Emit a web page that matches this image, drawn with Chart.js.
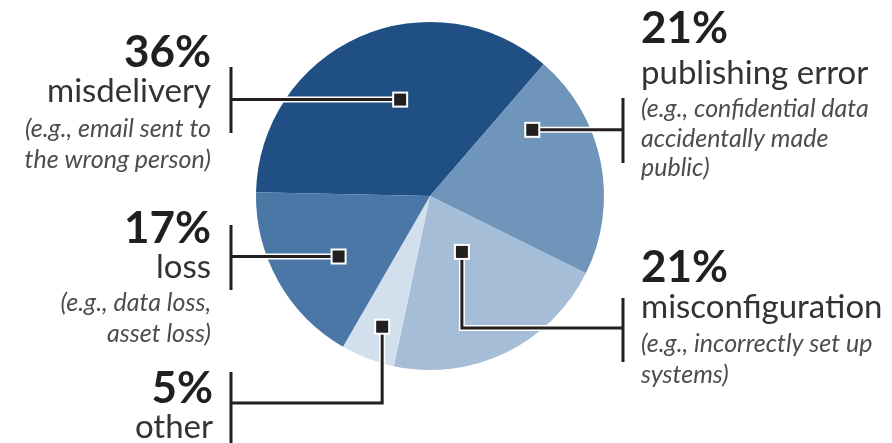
<!DOCTYPE html>
<html>
<head>
<meta charset="utf-8">
<script src="https://cdn.jsdelivr.net/npm/chart.js@4/dist/chart.umd.min.js"></script>
<style>
  html, body { margin: 0; padding: 0; background: #fff; }
  #wrap { position: relative; width: 892px; height: 443px; }
</style>
</head>
<body>
<div id="wrap"><canvas id="pie" width="892" height="443"></canvas></div>
<script>
// Data
const categories = ['misdelivery', 'publishing error', 'misconfiguration', 'other', 'loss'];
const shares = [36, 21, 21, 5, 17];
const examples = [
    ['(e.g., email sent to', 'the wrong person)'],
    ['(e.g., confidential data', 'accidentally made', 'public)'],
    ['(e.g., incorrectly set up', 'systems)'],
    [],
    ['(e.g., data loss,', 'asset loss)']
];
const colors = ['#1f4f83', '#6f95bb', '#a5bdd6', '#d2e0ed', '#4a77a6'];

// Callout layout (marker as angle from top + fraction of radius, text block, bracket)
const callouts = [
    { ang: 342.8, rf: 0.58, side: 'L', tx: 211, base: [67, 102, 137, 168], bx: 231, by: [67, 133], ly: null },
    { ang: 57.1, rf: 0.70, side: 'R', tx: 641, base: [43, 84, 117, 147, 176], bx: 623, by: [98, 163], ly: null },
    { ang: 150.3, rf: 0.37, side: 'R', tx: 641, base: [282, 318, 352, 383], bx: 623, by: [298, 362], ly: 328 },
    { ang: 200.1, rf: 0.80, side: 'L', tx: 213, base: [403, 438], bx: 231, by: [372, 445], ly: 403 },
    { ang: 236.5, rf: 0.63, side: 'L', tx: 211, base: [243, 278, 311, 342], bx: 231, by: [225, 290], ly: null }
];

const calloutPlugin = {
    id: 'callouts',
    afterDraw(chart) {
        const ctx = chart.ctx;
        const arcs = chart.getDatasetMeta(0).data;
        ctx.save();
        callouts.forEach((c, i) => {
            const arc = arcs[i];
            const a = (c.ang - 90) * Math.PI / 180;
            const mx = arc.x + Math.cos(a) * arc.outerRadius * c.rf;
            const my = arc.y + Math.sin(a) * arc.outerRadius * c.rf;

            // connector
            ctx.strokeStyle = '#fff';
            ctx.lineWidth = 6;
            ctx.lineCap = 'butt';
            const path = () => {
                ctx.beginPath();
                if (c.ly === null) {
                    ctx.moveTo(c.bx, my);
                    ctx.lineTo(mx, my);
                } else {
                    ctx.moveTo(c.bx, c.ly);
                    ctx.lineTo(mx, c.ly);
                    ctx.lineTo(mx, my);
                }
            };
            path(); ctx.stroke();
            ctx.strokeStyle = '#231f20';
            ctx.lineWidth = 3;
            path(); ctx.stroke();

            ctx.beginPath();
            ctx.moveTo(c.bx, c.by[0]);
            ctx.lineTo(c.bx, c.by[1]);
            ctx.stroke();

            // marker
            ctx.fillStyle = '#fff';
            ctx.fillRect(mx - 8, my - 8, 16, 16);
            ctx.fillStyle = '#231f20';
            ctx.fillRect(mx - 6, my - 6, 12, 12);

            // text
            ctx.textAlign = c.side === 'L' ? 'right' : 'left';
            ctx.textBaseline = 'alphabetic';
            ctx.fillStyle = '#231f20';
            ctx.font = 'bold 44px Lato';
            ctx.fillText(shares[i] + '%', c.tx, c.base[0]);
            ctx.fillStyle = '#333';
            ctx.font = '33px Lato';
            ctx.fillText(categories[i], c.tx, c.base[1]);
            ctx.fillStyle = '#4d4d4d';
            ctx.font = 'italic 25px Lato';
            examples[i].forEach((t, k) => ctx.fillText(t, c.tx, c.base[2 + k]));
        });
        ctx.restore();
    }
};

new Chart(document.getElementById('pie'), {
    type: 'pie',
    data: {
        labels: categories,
        datasets: [{
            data: shares,
            backgroundColor: colors,
            borderWidth: 0
        }]
    },
    options: {
        responsive: false,
        animation: false,
        rotation: -88.8,
        layout: { padding: { left: 256, right: 288, top: 22, bottom: 73 } },
        plugins: { legend: { display: false }, tooltip: { enabled: false } }
    },
    plugins: [calloutPlugin]
});
</script>
</body>
</html>
